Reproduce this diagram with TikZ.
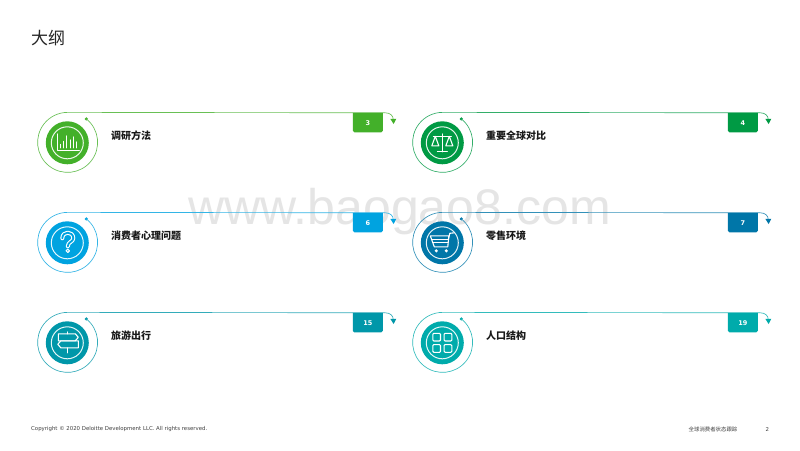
\documentclass[tikz,border=0pt]{standalone}
\usepackage{fontspec}
\setmainfont{DejaVu Sans}
\newfontfamily\cjk{Noto Sans CJK SC}
\newfontfamily\wm{Liberation Sans}
\usetikzlibrary{arrows.meta}
\definecolor{cA}{HTML}{43B02A}
\definecolor{cB}{HTML}{009A44}
\definecolor{cC}{HTML}{00A3E0}
\definecolor{cD}{HTML}{0076A8}
\definecolor{cE}{HTML}{0097A9}
\definecolor{cF}{HTML}{00ABAB}
\tikzset{
  ringline/.style={line width=0.65pt},
  disc/.style={circle,minimum size=43pt,inner sep=0pt,fill=#1},
  innerring/.style={circle,minimum size=32pt,inner sep=0pt,draw=white!90!#1,line width=1pt},
  icon/.style={draw=white,line width=1.1pt,line join=round,line cap=round},
  label/.style={anchor=west,inner sep=0pt,font=\cjk\bfseries\fontsize{10}{11}\selectfont,text=black!90},
  badge/.style={text=white,inner sep=0pt,font=\bfseries\fontsize{6.5}{8}\selectfont},
  foot/.style={inner sep=0pt,anchor=west,text=black!75},
}
\newcommand{\card}[7]{%
  \begin{scope}[shift={(#2,#3)}]
    \node[disc=#4] (#1disc) at (0,0) {};
    \node[innerring=#4] (#1in) at (0,0) {};
    \coordinate (#1dot) at (19,-23.9);
    \coordinate (#1arrow) at (326,-23);
    \fill[#4] (#1dot) circle (1.7);
    \draw[ringline,#4!80] (#1dot) arc[start angle=-51.5,end angle=270,radius=30]
      -- (318,-30) .. controls (323,-30) and (326,-27) .. (#1arrow);
    \fill[#4] (323,-24) -- (329,-24) -- (326.3,-18.8) -- cycle;
    \fill[#4] (285.5,-30) -- (315.5,-30) -- (315.5,-12) arc[start angle=0,end angle=90,radius=1.5] -- (287,-10.5) arc[start angle=90,end angle=180,radius=1.5] -- cycle;
    \node[badge] (#1num) at (300.5,-19.5) {#5};
    \node[label] (#1txt) at (43.7,-7) {#6};
    \begin{scope}[icon]#7\end{scope}
  \end{scope}}
\begin{document}
\begin{tikzpicture}[x=1pt,y=-1pt]
\useasboundingbox (0,0) rectangle (800,450);
\fill[white] (0,0) rectangle (800,450);
\node[inner sep=0pt,text=black!10,font=\wm\fontsize{50}{50}\selectfont] (wmk) at (399.5,212) {www.baogao8.com};
\node[inner sep=0pt,anchor=west,font=\cjk\fontsize{17}{19}\selectfont,text=black!85] (title) at (31,38) {大纲};

\card{a}{67.3}{142.8}{cA}{3}{调研方法}{%
  \draw (-10,-9) -- (-10,7.5) -- (12,7.5);
  \draw (-7,5) -- (-7,1.5); \draw (-3.7,5) -- (-3.7,-1.5); \draw (-0.4,5) -- (-0.4,-7);
  \draw (3,5) -- (3,-3); \draw (6.3,5) -- (6.3,-6); \draw (9.6,5) -- (9.6,-1);}
\card{b}{442.3}{142.8}{cB}{4}{重要全球对比}{%
  \draw (0,-9) -- (0,9); \draw (-5,9) -- (5,9);
  \draw (-9,-6.5) -- (9,-6.5);
  \draw (-7,-6.5) -- (-10.5,3) -- (-3.5,3) -- cycle;
  \draw (7,-6.5) -- (3.5,3) -- (10.5,3) -- cycle;}
\card{c}{67.3}{242.8}{cC}{6}{消费者心理问题}{%
  \draw[line width=4pt] (-5,-4.5) .. controls (-5,-12) and (6,-12) .. (6,-4.5) .. controls (6,-1) and (0.5,-1) .. (0.5,3.5);
  \draw[line width=1.8pt,draw=cC] (-5,-4.5) .. controls (-5,-12) and (6,-12) .. (6,-4.5) .. controls (6,-1) and (0.5,-1) .. (0.5,3.5);
  \draw (0.5,8) circle (1.7);}
\card{d}{442.3}{242.8}{cD}{7}{零售环境}{%
  \draw (-12,-7) -- (6.5,-7) -- (5.5,4) -- (-8,4) -- (-12,-7);
  \draw (6,-3) -- (7.5,-9.5) -- (12,-10);
  \draw (-10.5,-3.5) -- (6,-3.5); \draw (-9.5,0) -- (5.5,0);
  \fill[white,draw=none] (-6,8) circle (1.7) (4,8) circle (1.7);}
\card{e}{67.3}{342.8}{cE}{15}{旅游出行}{%
  \draw (0.5,-11) -- (0.5,-9); \draw (0.5,5) -- (0.5,10);
  \draw (-9,-9) -- (8,-9) -- (11,-5.5) -- (8,-2) -- (-9,-2) -- cycle;
  \draw (-6.5,-2) -- (11,-2) -- (11,5) -- (-6.5,5) -- (-9.5,1.5) -- cycle;}
\card{f}{442.3}{342.8}{cF}{19}{人口结构}{%
  \draw[rounded corners=1pt] (-9.5,-9.5) rectangle (-1.8,-1.8);
  \draw[rounded corners=1pt] (1.8,-9.5) rectangle (9.5,-1.8);
  \draw[rounded corners=1pt] (-9.5,1.8) rectangle (-1.8,9.5);
  \draw[rounded corners=1pt] (1.8,1.8) rectangle (9.5,9.5);}

\node[foot,font=\fontsize{5.4}{7}\selectfont] (copy) at (31,429) {Copyright © 2020 Deloitte Development LLC. All rights reserved.};
\node[foot,font=\cjk\fontsize{5.4}{7}\selectfont] (rep) at (688.5,429) {全球消费者状态跟踪};
\node[foot,font=\fontsize{5.4}{7}\selectfont] (pg) at (765.5,429) {2};
\end{tikzpicture}
\end{document}
